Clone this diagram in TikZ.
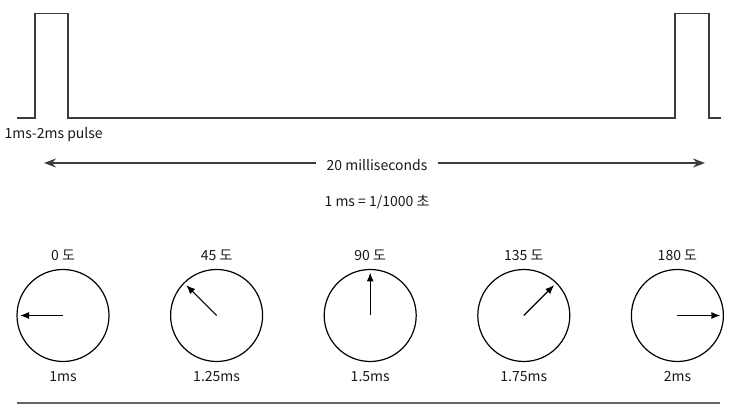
\documentclass[tikz,border=0pt]{standalone}
\usepackage{fontspec}
\setmainfont{Noto Sans CJK KR}
\definecolor{sgline}{RGB}{60,60,60}
\definecolor{sggray}{RGB}{100,100,100}
\usetikzlibrary{arrows.meta,positioning,calc}

\begin{document}
\begin{tikzpicture}[
  x=1pt,y=1pt,
  every node/.style={font=\fontsize{14}{16}\selectfont,text=black!90},
  signal/.style={draw=sgline,line width=1.4pt,line join=miter},
  dial/.style={draw=black,circle,line width=1.2pt,minimum size=92pt,inner sep=0pt},
  needle/.style={-{Latex[length=9pt,width=7pt]},line width=1.2pt},
  span/.style={-{Stealth[length=12pt,width=9pt]},line width=1.5pt,draw=sgline},
]
  \useasboundingbox (0,0) rectangle (736,419);

  % Pulse train
  \draw[signal] (17,301) -| (35,405.5) -| (68,301) -- (675,301)
    |- (709,405.5) |- (721,301);
  \node[anchor=west] (pulse) at (1,284) {1ms-2ms pulse};

  % Period
  \node[inner xsep=10pt] (period) at (377,254) {20 milliseconds};
  \coordinate (pl) at (44,256);
  \coordinate (pr) at (705,256);
  \draw[span] (period.west |- pl) -- (pl);
  \draw[span] (period.east |- pr) -- (pr);
  \node (unit) at (377,217) {1 ms = 1/1000 초};

  % Servo dials
  \foreach \i/\ang/\deg/\t in {0/180/0/1ms,1/135/45/1.25ms,2/90/90/1.5ms,
                               3/45/135/1.75ms,4/0/180/2ms}{
    \node[dial] (dial\i) at ({63+153.6*\i},103.5) {};
    \node (deg\i) at ({63+153.6*\i},164) {\deg\ 도};
    \node (time\i) at ({63+153.6*\i},42) {\t};
    \draw[needle] (dial\i.center) -- ++(\ang:43);
  }

  % Base line
  \draw[sggray,line width=2pt] (17,16) -- (720,16);
\end{tikzpicture}
\end{document}
